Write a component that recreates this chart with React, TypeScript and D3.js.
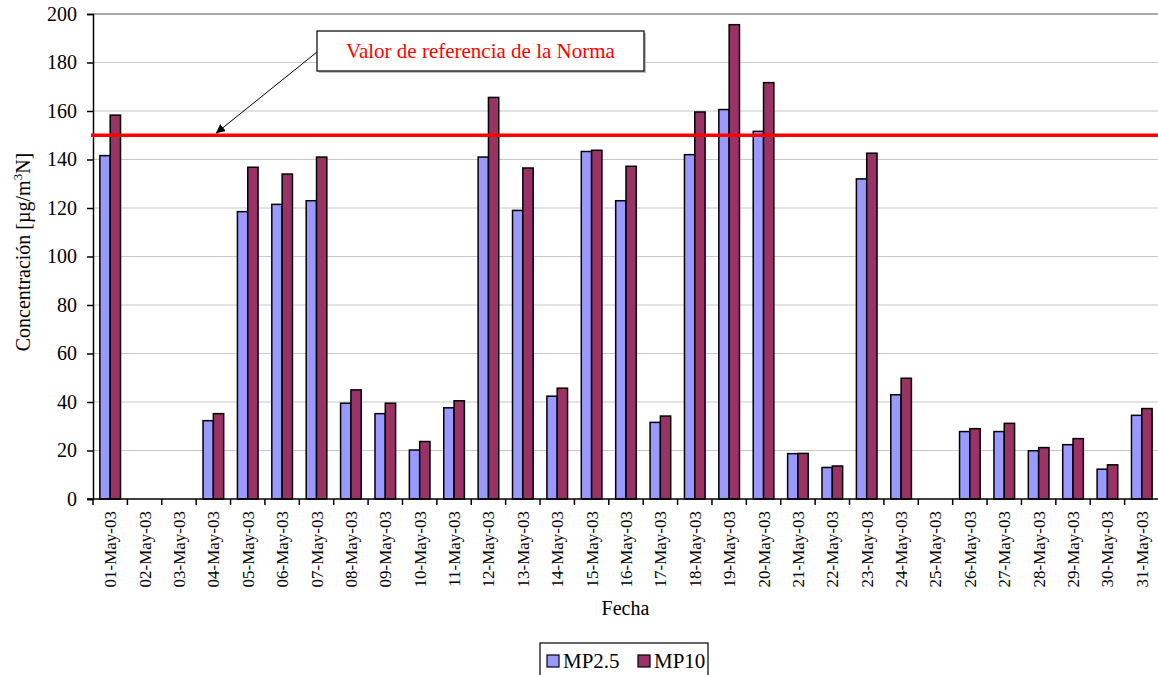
import React, { useEffect, useRef } from 'react';
import * as d3 from 'd3';

const days: string[] = [
  '01-May-03', '02-May-03', '03-May-03', '04-May-03', '05-May-03', '06-May-03', '07-May-03', '08-May-03',
  '09-May-03', '10-May-03', '11-May-03', '12-May-03', '13-May-03', '14-May-03', '15-May-03', '16-May-03',
  '17-May-03', '18-May-03', '19-May-03', '20-May-03', '21-May-03', '22-May-03', '23-May-03', '24-May-03',
  '25-May-03', '26-May-03', '27-May-03', '28-May-03', '29-May-03', '30-May-03', '31-May-03',
];

// null = no measurement that day
const mp25: (number | null)[] = [
  141.6, null, null, 32.3, 118.5, 121.5, 123, 39.5, 35.2, 20.2, 37.6, 141, 119, 42.4, 143.3, 123,
  31.6, 142, 160.6, 151.6, 18.7, 13, 132, 43, null, 27.8, 27.8, 19.9, 22.4, 12.3, 34.5,
];
const mp10: (number | null)[] = [
  158.3, null, null, 35.2, 136.8, 134, 141, 45, 39.5, 23.7, 40.5, 165.6, 136.5, 45.7, 143.8, 137.2,
  34.2, 159.6, 195.6, 171.7, 18.8, 13.6, 142.6, 49.8, null, 29, 31.2, 21.2, 24.9, 14.1, 37.3,
];

const seriesNames = ['MP2.5', 'MP10'];
const seriesColors = ['#9999FF', '#993366'];
const yTicks = [0, 20, 40, 60, 80, 100, 120, 140, 160, 180, 200];
const normValue = 150;
const normLabel = 'Valor de referencia de la Norma';

const W = 1158;
const H = 675;
const font = '"Liberation Serif", "Times New Roman", serif';

export default function App() {
  const svgRef = useRef<SVGSVGElement>(null);

  useEffect(() => {
    const svg = d3.select(svgRef.current);
    svg.selectAll('*').remove();

    const left = 93, right = 1159, top = 14, bottom = 499;

    const x = d3.scaleBand<string>().domain(days).range([left, right]).padding(0);
    const bw = x.bandwidth();
    const xs = d3.scaleBand<string>().domain(seriesNames).range([0.2 * bw, 0.8 * bw]).padding(0);
    const y = d3.scaleLinear().domain([0, 200]).range([bottom, top]);

    // gridlines
    svg.append('g')
      .selectAll('line')
      .data(yTicks.filter(t => t > 0))
      .enter()
      .append('line')
      .attr('x1', left).attr('x2', W)
      .attr('y1', d => y(d)).attr('y2', d => y(d))
      .attr('stroke', d => (d === 200 ? '#8c8c8c' : '#c8c8c8'))
      .attr('stroke-width', d => (d === 200 ? 1.5 : 1.2));

    // bars
    const rows = days.map((d, i) => ({ day: d, vals: [mp25[i], mp10[i]] }));
    const groups = svg.append('g')
      .selectAll('g')
      .data(rows)
      .enter()
      .append('g')
      .attr('transform', d => `translate(${x(d.day)},0)`);

    groups.selectAll('rect')
      .data(d => d.vals.map((v, k) => ({ v, k })).filter(e => e.v !== null))
      .enter()
      .append('rect')
      .attr('x', e => xs(seriesNames[e.k]) as number)
      .attr('width', xs.bandwidth())
      .attr('y', e => y(e.v as number))
      .attr('height', e => bottom - y(e.v as number))
      .attr('fill', e => seriesColors[e.k])
      .attr('stroke', '#000')
      .attr('stroke-width', 1.5);

    // y axis
    const yAxis = svg.append('g')
      .attr('transform', `translate(${left},0)`)
      .call(d3.axisLeft(y).tickValues(yTicks).tickSize(6).tickPadding(10));
    yAxis.select('.domain').attr('stroke', '#000').attr('stroke-width', 1.5);
    yAxis.selectAll('.tick line').attr('stroke', '#000').attr('stroke-width', 1.5);
    yAxis.selectAll('.tick text')
      .attr('font-family', font).attr('font-size', 20).attr('fill', '#000');

    // x axis
    const xAxis = svg.append('g').attr('transform', `translate(0,${bottom})`);
    xAxis.append('line')
      .attr('x1', left - 6).attr('x2', W)
      .attr('stroke', '#000').attr('stroke-width', 1.5);
    xAxis.selectAll('line.tk')
      .data(d3.range(days.length + 1))
      .enter()
      .append('line')
      .attr('class', 'tk')
      .attr('x1', i => left + i * bw).attr('x2', i => left + i * bw)
      .attr('y1', 0).attr('y2', 6)
      .attr('stroke', '#000').attr('stroke-width', 1.5);
    xAxis.selectAll('text')
      .data(days)
      .enter()
      .append('text')
      .attr('transform', d => `translate(${(x(d) as number) + bw / 2 + 6},${12}) rotate(-90)`)
      .attr('text-anchor', 'end')
      .attr('font-family', font)
      .attr('font-size', 17)
      .text(d => d);

    // reference line
    svg.append('line')
      .attr('x1', left - 2).attr('x2', W)
      .attr('y1', y(normValue)).attr('y2', y(normValue))
      .attr('stroke', '#FF0000').attr('stroke-width', 3.5);

    // annotation box
    const bx = 317, by = 31, bwid = 327, bh = 40;
    svg.append('rect')
      .attr('x', bx + 2).attr('y', by + 2).attr('width', bwid).attr('height', bh)
      .attr('fill', '#c0c0c0');
    svg.append('rect')
      .attr('x', bx).attr('y', by).attr('width', bwid).attr('height', bh)
      .attr('fill', '#fff').attr('stroke', '#000').attr('stroke-width', 1.2);
    svg.append('text')
      .attr('x', bx + bwid / 2).attr('y', by + 27)
      .attr('text-anchor', 'middle')
      .attr('font-family', font).attr('font-size', 21)
      .attr('fill', '#FF0000')
      .text(normLabel);

    // arrow
    const defs = svg.append('defs');
    defs.append('marker')
      .attr('id', 'arr')
      .attr('viewBox', '0 0 10 10')
      .attr('refX', 10).attr('refY', 5)
      .attr('markerWidth', 9).attr('markerHeight', 9)
      .attr('markerUnits', 'userSpaceOnUse')
      .attr('orient', 'auto')
      .append('path')
      .attr('d', 'M0,0 L10,5 L0,10 Z')
      .attr('fill', '#000');
    svg.append('line')
      .attr('x1', bx).attr('y1', by + 21)
      .attr('x2', 216).attr('y2', y(normValue) - 2)
      .attr('stroke', '#000').attr('stroke-width', 1)
      .attr('marker-end', 'url(#arr)');

    // axis titles
    svg.append('text')
      .attr('x', (left + W) / 2).attr('y', 615)
      .attr('text-anchor', 'middle')
      .attr('font-family', font).attr('font-size', 20)
      .text('Fecha');

    const yt = svg.append('text')
      .attr('transform', `translate(30,${252}) rotate(-90)`)
      .attr('text-anchor', 'middle')
      .attr('font-family', font).attr('font-size', 20);
    yt.append('tspan').text('Concentración [µg/m');
    yt.append('tspan').attr('font-size', 13).attr('dy', -8).text('3');
    yt.append('tspan').attr('dy', 8).text('N]');

    // legend
    const lg = svg.append('g');
    lg.append('rect')
      .attr('x', 540).attr('y', 643).attr('width', 168).attr('height', 40)
      .attr('fill', '#fff').attr('stroke', '#000').attr('stroke-width', 1.2);
    const lx = [547, 638];
    seriesNames.forEach((s, i) => {
      lg.append('rect')
        .attr('x', lx[i]).attr('y', 655).attr('width', 12).attr('height', 12)
        .attr('fill', seriesColors[i]).attr('stroke', '#000').attr('stroke-width', 1.2);
      lg.append('text')
        .attr('x', lx[i] + 16).attr('y', 668)
        .attr('font-family', font).attr('font-size', 21)
        .text(s);
    });
  }, []);

  return (
    <div style={{ position: 'absolute', left: 0, top: 0, width: W, height: H, background: '#fff' }}>
      <svg ref={svgRef} width={W} height={H} style={{ display: 'block' }} />
    </div>
  );
}
